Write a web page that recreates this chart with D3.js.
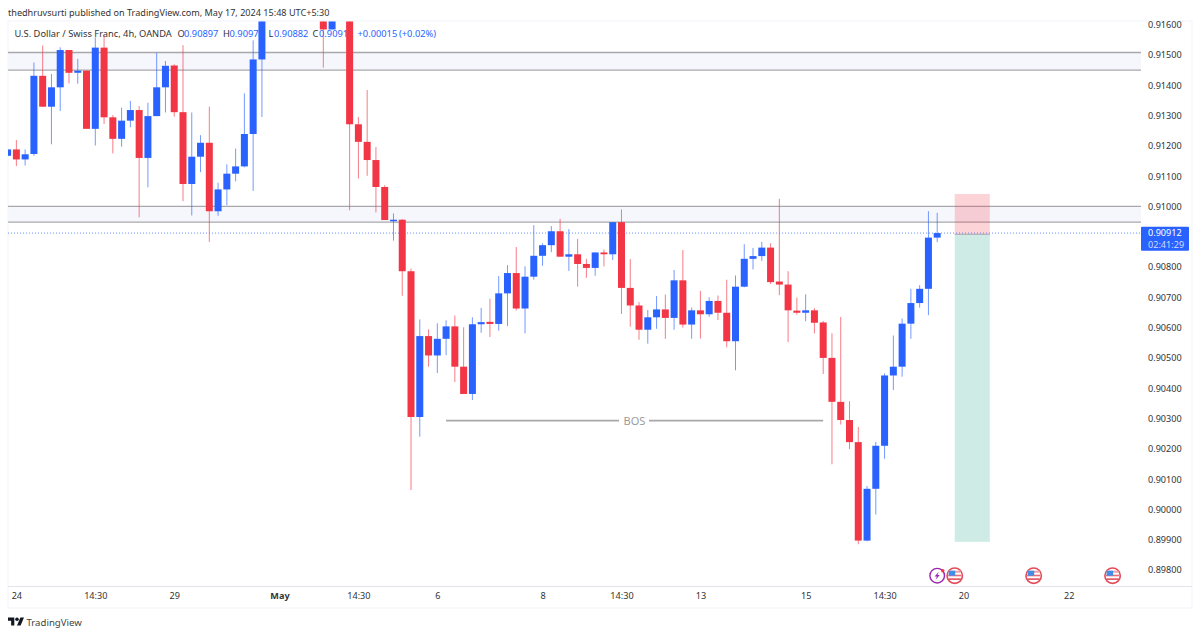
<!DOCTYPE html>
<html>
<head>
<meta charset="utf-8">
<script src="https://cdn.jsdelivr.net/npm/d3@7"></script>
<style>
  html, body { margin: 0; padding: 0; background: #fff; }
  svg { display: block; }
  text { font-family: "Noto Sans", sans-serif; }
</style>
</head>
<body>
<svg id="chart" width="1200" height="636"></svg>
<script>
// 4h candles. null = bar is above the visible pane
const opens = [0.91167,0.91188,0.91155,0.91173,0.91431,0.91329,0.91393,0.91516,0.91441,0.91448,0.91256,0.91524,0.91294,0.91223,0.91283,0.91318,0.91160,0.91298,0.91393,0.91465,0.91311,0.91074,0.91164,0.91210,0.90984,0.91056,0.91108,0.91132,0.91239,0.91485,null,null,null,null,null,null,0.91640,0.91584,null,0.91660,0.91271,0.91213,0.91153,0.91064,0.90955,0.90956,0.90786,0.90305,0.90572,0.90508,0.90563,0.90604,0.90471,0.90381,0.90611,0.90619,0.90612,0.90713,0.90780,0.90663,0.90768,0.90837,0.90872,0.90918,0.90834,0.90842,0.90810,0.90797,0.90848,0.90842,0.90948,0.90731,0.90673,0.90593,0.90634,0.90660,0.90632,0.90756,0.90610,0.90657,0.90644,0.90688,0.90649,0.90555,0.90735,0.90827,0.90836,0.90864,0.90752,0.90742,0.90656,0.90649,0.90657,0.90617,0.90500,0.90355,0.90295,0.90222,0.89897,0.90068,0.90210,0.90442,0.90471,0.90613,0.90681,0.90728,0.90897];
const highs = [0.91191,0.91219,0.91188,0.91475,0.91531,0.91437,0.91525,0.91516,0.91487,0.91448,0.91558,0.91565,0.91301,0.91326,0.91348,0.91331,0.91342,0.91507,0.91480,0.91469,0.91532,0.91310,0.91235,0.91329,0.91078,0.91139,0.91191,0.91373,0.91548,0.91690,null,null,null,null,null,null,0.91640,0.91640,null,0.91660,0.91295,0.91384,0.91196,0.91070,0.90977,0.90958,0.90795,0.90627,0.90594,0.90614,0.90624,0.90640,0.90601,0.90634,0.90665,0.90695,0.90770,0.90806,0.90866,0.90802,0.90938,0.90878,0.90935,0.90959,0.90925,0.90893,0.90827,0.90848,0.90858,0.90948,0.90990,0.90826,0.90684,0.90658,0.90704,0.90709,0.90790,0.90856,0.90666,0.90721,0.90700,0.90706,0.90758,0.90772,0.90875,0.90863,0.90883,0.90878,0.91025,0.90786,0.90699,0.90710,0.90664,0.90622,0.90581,0.90635,0.90357,0.90272,0.90077,0.90223,0.90449,0.90574,0.90630,0.90728,0.90740,0.90984,0.90979];
const lows = [0.91164,0.91133,0.91135,0.91167,0.91329,0.91205,0.91315,0.91406,0.91405,0.91256,0.91201,0.91272,0.91175,0.91197,0.91261,0.90964,0.91063,0.91298,0.91310,0.91296,0.91017,0.90970,0.91113,0.90883,0.90969,0.91004,0.91083,0.91129,0.91051,0.91295,null,null,null,null,null,null,0.91458,0.91584,null,0.90987,0.91092,0.91101,0.90980,0.90955,0.90887,0.90705,0.90064,0.90240,0.90471,0.90450,0.90509,0.90420,0.90381,0.90361,0.90583,0.90569,0.90590,0.90605,0.90656,0.90581,0.90758,0.90804,0.90849,0.90834,0.90787,0.90735,0.90764,0.90771,0.90802,0.90823,0.90645,0.90603,0.90560,0.90547,0.90596,0.90563,0.90593,0.90600,0.90563,0.90564,0.90636,0.90625,0.90535,0.90459,0.90733,0.90792,0.90820,0.90744,0.90707,0.90552,0.90643,0.90621,0.90581,0.90447,0.90149,0.90280,0.90199,0.89885,0.89895,0.89983,0.90167,0.90394,0.90438,0.90563,0.90666,0.90641,0.90882];
const closes = [0.91188,0.91155,0.91172,0.91431,0.91329,0.91393,0.91516,0.91441,0.91448,0.91256,0.91524,0.91294,0.91223,0.91283,0.91318,0.91160,0.91298,0.91393,0.91464,0.91311,0.91074,0.91164,0.91210,0.90984,0.91056,0.91108,0.91132,0.91239,0.91485,0.91660,null,null,null,null,null,null,0.91584,0.91640,null,0.91271,0.91213,0.91153,0.91064,0.90955,0.90956,0.90786,0.90305,0.90572,0.90508,0.90563,0.90604,0.90471,0.90381,0.90611,0.90618,0.90612,0.90713,0.90780,0.90663,0.90768,0.90837,0.90872,0.90918,0.90834,0.90842,0.90810,0.90797,0.90848,0.90842,0.90948,0.90731,0.90673,0.90593,0.90634,0.90660,0.90632,0.90756,0.90610,0.90657,0.90644,0.90688,0.90649,0.90555,0.90735,0.90827,0.90836,0.90864,0.90750,0.90742,0.90657,0.90649,0.90657,0.90616,0.90500,0.90355,0.90295,0.90222,0.89897,0.90068,0.90210,0.90442,0.90471,0.90613,0.90681,0.90728,0.90897,0.90912];

const priceTicks = [0.916,0.915,0.914,0.913,0.912,0.911,0.910,0.908,0.907,0.906,0.905,0.904,0.903,0.902,0.901,0.900,0.899,0.898];
const timeTickBars = [1,10,19,31,40,49,61,70,79,91,100,109,121];
const timeTickLabels = ['24','14:30','29','May','14:30','6','8','14:30','13','15','14:30','20','22'];

const zones = [[0.91508,0.91450],[0.91000,0.90948]];
const lastPrice = 0.90912;
const riskBox = { fromBar: 108, toBar: 112, stop: 0.91041, entry: 0.90908, target: 0.89893 };
const bos = { fromBar: 50, toBar: 93, price: 0.90293, label: 'BOS' };
const flagBars = [108,117,126];
const boltBar = 106;

const paneLeft = 8, paneRight = 1141, frameRight = 1192, paneTop = 21.5, paneBottom = 586.5, frameBottom = 608;
const blue = '#2962ff', red = '#f23645', gray = '#a8a8ab';
const labelSize = 9.1;

const svg = d3.select('#chart');
const x = d3.scaleLinear().domain([0, 129]).range([7.6, 1138.9]);
const y = d3.scaleLinear().domain([0.898, 0.916]).range([570, 24.6]);

svg.append('defs').append('clipPath').attr('id', 'pane')
  .append('rect').attr('x', paneLeft).attr('y', paneTop).attr('width', paneRight - paneLeft).attr('height', paneBottom - paneTop);

// frame
svg.append('path').attr('fill', 'none').attr('stroke', '#f0f3fa')
  .attr('d', `M${paneLeft},${frameBottom}V${paneTop - 0.5}H${frameRight}V${frameBottom}H${paneLeft}`);
svg.append('line').attr('x1', paneLeft).attr('x2', frameRight).attr('y1', paneBottom).attr('y2', paneBottom).attr('stroke', '#e0e3eb');

svg.append('text').attr('x', 8).attr('y', 16).attr('font-size', labelSize).attr('fill', '#333')
  .text('thedhruvsurti published on TradingView.com, May 17, 2024 15:48 UTC+5:30');

const pane = svg.append('g').attr('clip-path', 'url(#pane)');

// zones
zones.forEach(z => {
  pane.append('rect').attr('x', paneLeft).attr('width', paneRight - paneLeft)
    .attr('y', y(z[0])).attr('height', y(z[1]) - y(z[0])).attr('fill', '#f6f7fd');
  z.forEach(p => {
    pane.append('line').attr('x1', paneLeft).attr('x2', paneRight).attr('y1', y(p)).attr('y2', y(p))
      .attr('stroke', gray).attr('stroke-width', 1.3);
  });
});

// legend sits under the candles
const legend = pane.append('g').attr('font-size', 9.3);
legend.append('text').attr('x', 14.5).attr('y', 37).attr('fill', '#333').text('U.S. Dollar / Swiss Franc, 4h, OANDA');
[['O', 177.5, '#333'], ['0.90897', 184, blue], ['H', 223, '#333'], ['0.90979', 229.5, blue], ['L', 268.5, '#333'], ['0.90882', 274, blue],
 ['C', 312.5, '#333'], ['0.90912', 319, blue], ['+0.00015', 357.5, blue], ['(+0.02%)', 399, blue]].forEach(d => {
  legend.append('text').attr('x', d[1]).attr('y', 37).attr('fill', d[2]).text(d[0]);
});

// risk / reward box
pane.append('rect').attr('x', x(riskBox.fromBar)).attr('width', x(riskBox.toBar) - x(riskBox.fromBar))
  .attr('y', y(riskBox.stop)).attr('height', y(riskBox.entry) - y(riskBox.stop)).attr('fill', '#f23645').attr('opacity', 0.22);
pane.append('rect').attr('x', x(riskBox.fromBar)).attr('width', x(riskBox.toBar) - x(riskBox.fromBar))
  .attr('y', y(riskBox.entry)).attr('height', y(riskBox.target) - y(riskBox.entry)).attr('fill', '#089981').attr('opacity', 0.2);
pane.append('line').attr('x1', x(riskBox.fromBar)).attr('x2', x(riskBox.toBar)).attr('y1', y(riskBox.entry)).attr('y2', y(riskBox.entry))
  .attr('stroke', gray).attr('stroke-width', 1);

// last price line
pane.append('line').attr('x1', paneLeft).attr('x2', paneRight).attr('y1', y(lastPrice)).attr('y2', y(lastPrice))
  .attr('stroke', blue).attr('stroke-width', 1).attr('stroke-opacity', 0.7).attr('stroke-dasharray', '1 2');

// candles
const bars = opens.map((o, i) => ({ i, o, h: highs[i], l: lows[i], c: closes[i] })).filter(d => d.o !== null);
const candles = pane.append('g').selectAll('g').data(bars).enter().append('g');
candles.append('line')
  .attr('x1', d => x(d.i)).attr('x2', d => x(d.i))
  .attr('y1', d => y(d.h)).attr('y2', d => y(d.l))
  .attr('stroke', d => d.c >= d.o ? blue : red).attr('stroke-opacity', 0.65).attr('stroke-width', 1);
candles.append('rect')
  .attr('x', d => x(d.i) - 3.5).attr('width', 7)
  .attr('y', d => y(Math.max(d.o, d.c)))
  .attr('height', d => Math.max(1.5, Math.abs(y(d.o) - y(d.c))))
  .attr('fill', d => d.c >= d.o ? blue : red);

// BOS marker
const bosMid = 634.5;
pane.append('line').attr('x1', x(bos.fromBar)).attr('x2', bosMid - 15.5).attr('y1', y(bos.price)).attr('y2', y(bos.price)).attr('stroke', gray).attr('stroke-width', 1.6);
pane.append('line').attr('x1', bosMid + 14.5).attr('x2', x(bos.toBar)).attr('y1', y(bos.price)).attr('y2', y(bos.price)).attr('stroke', gray).attr('stroke-width', 1.6);
pane.append('text').attr('x', bosMid).attr('y', y(bos.price) + 4.2).attr('text-anchor', 'middle')
  .attr('font-size', 11).attr('fill', '#9b9b9e').text(bos.label);

// price axis
const yAxis = svg.append('g').attr('transform', `translate(${paneRight},0)`)
  .call(d3.axisRight(y).tickValues(priceTicks).tickFormat(d3.format('.5f')).tickSize(0).tickPadding(7));
yAxis.select('.domain').remove();
yAxis.selectAll('text').attr('font-size', labelSize).attr('font-family', '"Noto Sans", sans-serif').attr('fill', '#333');

// last price tag
svg.append('rect').attr('x', paneRight).attr('y', 226.7).attr('width', 48).attr('height', 24).attr('rx', 1).attr('fill', blue);
svg.append('text').attr('x', paneRight + 7).attr('y', 235.6).attr('font-size', labelSize).attr('fill', '#fff').text(d3.format('.5f')(lastPrice));
svg.append('text').attr('x', paneRight + 7).attr('y', 248.2).attr('font-size', labelSize).attr('fill', '#cfdcff').text('02:41:29');

// time axis
const xAxis = svg.append('g').attr('transform', `translate(0,${paneBottom})`)
  .call(d3.axisBottom(x).tickValues(timeTickBars).tickFormat((d, i) => timeTickLabels[i]).tickSize(0).tickPadding(6.5));
xAxis.select('.domain').remove();
xAxis.selectAll('text').attr('font-size', labelSize).attr('font-family', '"Noto Sans", sans-serif').attr('fill', '#333')
  .attr('font-weight', (d, i) => timeTickLabels[i] === 'May' ? 700 : 400);

// event icons
const iconY = 575.7;
const boltIcon = svg.append('g').attr('transform', `translate(${x(boltBar)},${iconY})`);
boltIcon.append('circle').attr('r', 7.3).attr('fill', '#fff').attr('stroke', '#9c27b0').attr('stroke-width', 1.4);
boltIcon.append('path').attr('d', 'M1.6,-4 L-2.6,0.8 L-0.3,0.8 L-1.6,4 L2.6,-0.8 L0.3,-0.8 Z').attr('fill', '#9c27b0');
boltIcon.append('circle').attr('cx', 5.6).attr('cy', -5).attr('r', 1.7).attr('fill', '#f23645');
const flags = svg.append('g').selectAll('g').data(flagBars).enter().append('g')
  .attr('transform', d => `translate(${x(d)},${iconY})`);
flags.append('circle').attr('r', 7.7).attr('fill', '#fff').attr('stroke', '#e34b58').attr('stroke-width', 1.6);
flags.append('rect').attr('x', -6).attr('y', -5).attr('width', 12).attr('height', 2).attr('fill', '#f0a0a6');
flags.append('rect').attr('x', -6.5).attr('y', -1).attr('width', 13).attr('height', 1.6).attr('fill', '#ee6a74');
flags.append('rect').attr('x', -6).attr('y', 2.6).attr('width', 12).attr('height', 1.6).attr('fill', '#e0525e');
flags.append('rect').attr('x', -6).attr('y', -5).attr('width', 6.5).attr('height', 5).attr('fill', '#3f8fe8');

// footer logo
svg.append('path').attr('transform', 'translate(8,615.7) scale(0.45)')
  .attr('d', 'M14 22H7V11H0V4h14v18zM28 22h-8l7.5-18h8L28 22z').attr('fill', '#131722');
svg.append('circle').attr('cx', 8 + 20 * 0.45).attr('cy', 615.7 + 8 * 0.45).attr('r', 4 * 0.45).attr('fill', '#131722');
svg.append('text').attr('x', 26.5).attr('y', 625.5).attr('font-size', 9.6).attr('fill', '#444').text('TradingView');
</script>
</body>
</html>
